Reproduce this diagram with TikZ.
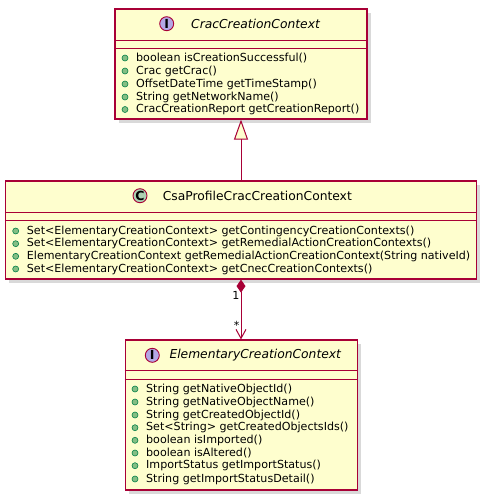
\documentclass[tikz,border=0pt]{standalone}
\usepackage{fontspec}
\setmainfont{DejaVu Sans}
\usetikzlibrary{arrows.meta}
\usetikzlibrary{shadows}
\definecolor{umlfill}{HTML}{FEFECE}
\definecolor{umlborder}{HTML}{A80036}
\definecolor{ifacecircle}{HTML}{B4A7E5}
\definecolor{classcircle}{HTML}{ADD1B2}
\definecolor{visfill}{HTML}{84BE84}
\definecolor{visborder}{HTML}{038048}

\begin{document}
\begin{tikzpicture}[x=1pt, y=-1pt]
            \tikzset{umlbox/.style={draw=umlborder, line width=1.2pt, fill=umlfill, inner sep=0pt, drop shadow={shadow xshift=3.5pt, shadow yshift=-3.5pt, opacity=0.3}}}
            \tikzset{divider/.style={umlborder, line width=1pt}}
            \tikzset{stereo/.style={circle, draw=umlborder, line width=0.9pt, minimum size=14pt, inner sep=0pt, font=\bfseries\fontsize{12.5}{12.5}\selectfont}}
            \tikzset{title/.style={anchor=west, inner sep=0pt, font=\fontsize{12.3}{14}\selectfont}}
            \tikzset{vis/.style={circle, draw=visborder, fill=visfill, line width=0.6pt, minimum size=6pt, inner sep=0pt}}
            \tikzset{member/.style={anchor=west, inner sep=0pt, font=\fontsize{11.1}{13}\selectfont, label={[vis, label distance=7.7pt]left:{}}}}
            \tikzset{inherit/.style={umlborder, line width=1pt, -{Triangle[width=14pt, length=20pt, fill=umlfill]}}}
            \tikzset{compose/.style={umlborder, line width=1pt, {Diamond[width=9pt, length=13pt]}-{Straight Barb[width=10pt, length=9pt]}}}
            \tikzset{mult/.style={inner sep=0pt, font=\fontsize{11.1}{13}\selectfont}}
            \useasboundingbox (0,0) rectangle (486,499);

            \node[umlbox, minimum width=252pt, minimum height=110pt] (crac) at (241,64) {};
            \node[umlbox, minimum width=471pt, minimum height=98pt] (csa) at (241,230) {};
            \node[umlbox, minimum width=232pt, minimum height=150pt] (elem) at (241.3,415) {};

            \draw[divider] (crac.west |- 0,40) -- (crac.east |- 0,40);
            \draw[divider] (crac.west |- 0,48) -- (crac.east |- 0,48);
            \draw[divider] (csa.west |- 0,212.7) -- (csa.east |- 0,212.7);
            \draw[divider] (csa.west |- 0,220) -- (csa.east |- 0,220);
            \draw[divider] (elem.west |- 0,370.7) -- (elem.east |- 0,370.7);
            \draw[divider] (elem.west |- 0,379) -- (elem.east |- 0,379);

            \node[stereo, fill=ifacecircle] (crac-icon) at (166.7,23.7) {I};
            \node[title, font=\fontsize{12.3}{14}\selectfont\itshape] (crac-name) at (191,23.7) {CracCreationContext};
            \node[stereo, fill=classcircle] (csa-icon) at (140,195.7) {C};
            \node[title] (csa-name) at (162.7,195.7) {CsaProfileCracCreationContext};
            \node[stereo, fill=ifacecircle] (elem-icon) at (152.3,355.3) {I};
            \node[title, font=\fontsize{12.3}{14}\selectfont\itshape] (elem-name) at (169.3,355.3) {ElementaryCreationContext};

            \node[member] (crac-m1) at (136,58) {boolean isCreationSuccessful()};
            \node[member] (crac-m2) at (136,71) {Crac getCrac()};
            \node[member] (crac-m3) at (136,84) {OffsetDateTime getTimeStamp()};
            \node[member] (crac-m4) at (136,97) {String getNetworkName()};
            \node[member] (crac-m5) at (136,109.5) {CracCreationReport getCreationReport()};

            \node[member] (csa-m1) at (26.7,231) {Set<ElementaryCreationContext> getContingencyCreationContexts()};
            \node[member] (csa-m2) at (26.7,243.7) {Set<ElementaryCreationContext> getRemedialActionCreationContexts()};
            \node[member] (csa-m3) at (26.7,256.3) {ElementaryCreationContext getRemedialActionCreationContext(String nativeId)};
            \node[member] (csa-m4) at (26.7,269) {Set<ElementaryCreationContext> getCnecCreationContexts()};

            \node[member] (elem-m1) at (146,389) {String getNativeObjectId()};
            \node[member] (elem-m2) at (146,402) {String getNativeObjectName()};
            \node[member] (elem-m3) at (146,415) {String getCreatedObjectId()};
            \node[member] (elem-m4) at (146,427.7) {Set<String> getCreatedObjectsIds()};
            \node[member] (elem-m5) at (146,440.3) {boolean isImported()};
            \node[member] (elem-m6) at (146,453) {boolean isAltered()};
            \node[member] (elem-m7) at (146,465.7) {ImportStatus getImportStatus()};
            \node[member] (elem-m8) at (146,479) {String getImportStatusDetail()};

            \draw[inherit] (csa.north) -- (csa.north |- crac.south);
            \draw[compose] (csa.south) -- (csa.south |- elem.north);

            \node[mult] (one) at (236,295) {1};
            \node[mult] (many) at (236.7,325) {*};
        \end{tikzpicture}
\end{document}
